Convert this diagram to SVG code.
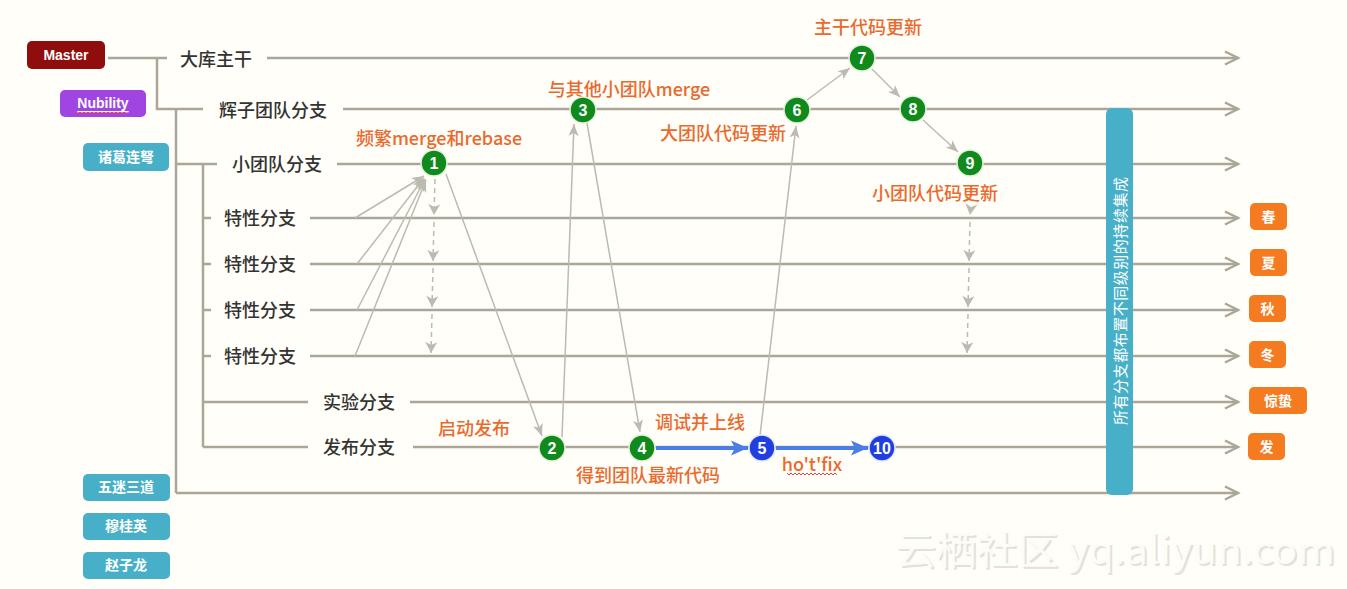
<svg xmlns="http://www.w3.org/2000/svg" width="1347" height="589" viewBox="0 0 1347 589">
<style>
.ln{stroke:#aca699;stroke-width:2.5;fill:none}
.main{marker-end:url(#chev)}
.ga{stroke:#bdbab2;stroke-width:1.5;fill:none;marker-end:url(#garr)}
.gd{stroke:#bdbab2;stroke-width:1.5;fill:none;stroke-dasharray:5 4;marker-end:url(#vch)}
.ba{stroke:#4a7ee6;stroke-width:4;fill:none;marker-end:url(#barr)}
.lbl{font-family:"Noto Sans CJK SC","Noto Sans",sans-serif;font-size:18px;fill:#333;font-weight:500;text-anchor:middle;dominant-baseline:central}
.or{font-family:"Noto Sans CJK SC","Noto Sans",sans-serif;font-size:18px;fill:#ea6a2e;font-weight:500;text-anchor:middle;dominant-baseline:central}
.btxt{font-family:"Liberation Sans","Noto Sans CJK SC",sans-serif;font-size:14px;fill:#fff;font-weight:bold;text-anchor:middle;dominant-baseline:central}
.num{font-family:"Liberation Sans",sans-serif;font-size:16px;fill:#fff;font-weight:bold;text-anchor:middle;dominant-baseline:central}
.gn{fill:#108a1c;stroke:#e3f1dc;stroke-width:1.5}
.bn{fill:#1f3fe0;stroke:#dfe6fa;stroke-width:1.5}
.teal{fill:#47b0c8}
.orb{fill:#f47b20}
.wavy{stroke:#e0403a;stroke-width:1;fill:none}
</style>
<defs>
<marker id="chev" markerUnits="userSpaceOnUse" markerWidth="16" markerHeight="16" refX="13" refY="7" orient="auto" overflow="visible">
<path d="M0,0.5 L13,7 L0,13.5" fill="none" stroke="#aca699" stroke-width="2.5"/>
</marker>
<marker id="garr" markerUnits="userSpaceOnUse" markerWidth="14" markerHeight="12" refX="12" refY="5" orient="auto" overflow="visible">
<path d="M0,0 L12,5 L0,10 L3,5 z" fill="#bdbab2"/>
</marker>
<marker id="vch" markerUnits="userSpaceOnUse" markerWidth="14" markerHeight="14" refX="11" refY="6" orient="auto" overflow="visible">
<path d="M0,0 L11,6 L0,12 L3,6 z" fill="#bdbab2"/>
</marker>
<marker id="barr" markerUnits="userSpaceOnUse" markerWidth="18" markerHeight="16" refX="17" refY="7.5" orient="auto" overflow="visible">
<path d="M0,0 L17,7.5 L0,15 L4,7.5 z" fill="#4a7ee6"/>
</marker>
</defs>
<rect width="1347" height="589" fill="#fffef8"/>

<!-- watermark -->
<g id="watermark" font-family="Noto Sans CJK SC, sans-serif" font-size="39">
<text x="897" y="566" fill="#e4e1d8" textLength="440" lengthAdjust="spacingAndGlyphs">云栖社区 yq.aliyun.com</text>
<text x="895" y="564" fill="#fdfcf7" textLength="440" lengthAdjust="spacingAndGlyphs">云栖社区 yq.aliyun.com</text>
</g>

<g id="connectors">
<path class="ln" d="M108,58 H167"/>
<path class="ln main" d="M267,58 H1238"/>
<path class="ln" d="M157,58 V109 H203"/>
<path class="ln main" d="M343,109 H1238"/>
<path class="ln" d="M176,109 V493"/>
<path class="ln" d="M176,164 H217"/>
<path class="ln main" d="M337,164 H1238"/>
<path class="ln" d="M203,164 V447"/>
<path class="ln" d="M203,218 H211 M203,264 H211 M203,310 H211 M203,356 H211"/>
<path class="ln main" d="M310,218 H1238"/>
<path class="ln main" d="M310,264 H1238"/>
<path class="ln main" d="M310,310 H1238"/>
<path class="ln main" d="M310,356 H1238"/>
<path class="ln" d="M203,402 H308"/>
<path class="ln main" d="M410,402 H1238"/>
<path class="ln" d="M203,447 H308"/>
<path class="ln main" d="M413,447 H1238"/>
<path class="ln main" d="M176,493 H1238"/>

<line class="ga" x1="355" y1="218" x2="424" y2="176"/>
<line class="ga" x1="357" y1="264" x2="424" y2="178"/>
<line class="ga" x1="357" y1="310" x2="425" y2="179"/>
<line class="ga" x1="355" y1="356" x2="426" y2="180"/>
<line class="gd" x1="435" y1="179" x2="434" y2="215"/>
<line class="gd" x1="434" y1="222" x2="433" y2="261"/>
<line class="gd" x1="433" y1="268" x2="432" y2="307"/>
<line class="gd" x1="432" y1="314" x2="431" y2="353"/>
<line class="gd" x1="971" y1="207" x2="970" y2="215"/>
<line class="gd" x1="970" y1="222" x2="969" y2="261"/>
<line class="gd" x1="969" y1="268" x2="968" y2="307"/>
<line class="gd" x1="968" y1="314" x2="967" y2="353"/>

<line class="ga" x1="446" y1="174" x2="542" y2="436"/>
<line class="ga" x1="562" y1="437" x2="574" y2="124"/>
<line class="ga" x1="587" y1="123" x2="640" y2="432"/>
<line class="ga" x1="760" y1="436" x2="796" y2="126"/>
<line class="ga" x1="807" y1="100" x2="850" y2="68"/>
<line class="ga" x1="872" y1="69" x2="900" y2="97"/>
<line class="ga" x1="923" y1="120" x2="958" y2="152"/>

<line class="ba" x1="656" y1="448" x2="748" y2="448"/>
<line class="ba" x1="776" y1="448" x2="868" y2="448"/>
</g>

<g id="master"><rect x="27" y="41" width="78" height="28" rx="5" fill="#8f0d0d"/><text class="btxt" x="66" y="55" font-size="15">Master</text></g>
<g id="nubility"><rect x="60" y="90" width="86" height="27" rx="5" fill="#a045e2"/><text class="btxt" x="103" y="103" text-decoration="underline">Nubility</text>
<path class="wavy" d="M76,112 l2,2 l2,-2 l2,2 l2,-2 l2,2 l2,-2 l2,2 l2,-2 l2,2 l2,-2 l2,2 l2,-2 l2,2 l2,-2 l2,2 l2,-2 l2,2 l2,-2 l2,2 l2,-2 l2,2 l2,-2 l2,2 l2,-2 l2,2"/></g>
<g id="zhuge"><rect class="teal" x="83" y="143" width="86" height="28" rx="5"/><text class="btxt" x="126" y="157">诸葛连弩</text></g>
<g id="wumi"><rect class="teal" x="83" y="474" width="87" height="27" rx="5"/><text class="btxt" x="126" y="487">五迷三道</text></g>
<g id="mugui"><rect class="teal" x="83" y="513" width="87" height="27" rx="5"/><text class="btxt" x="126" y="526">穆桂英</text></g>
<g id="zhaozi"><rect class="teal" x="83" y="552" width="87" height="27" rx="5"/><text class="btxt" x="126" y="565">赵子龙</text></g>

<g id="labels">
<text class="lbl" x="216" y="58">大库主干</text>
<text class="lbl" x="273" y="109">辉子团队分支</text>
<text class="lbl" x="277" y="163">小团队分支</text>
<text class="lbl" x="260" y="217">特性分支</text>
<text class="lbl" x="260" y="263">特性分支</text>
<text class="lbl" x="260" y="309">特性分支</text>
<text class="lbl" x="260" y="355">特性分支</text>
<text class="lbl" x="359" y="401">实验分支</text>
<text class="lbl" x="359" y="446">发布分支</text>
</g>

<g id="notes">
<text class="or" x="439" y="137">频繁merge和rebase</text>
<text class="or" x="629" y="88">与其他小团队merge</text>
<text class="or" x="723" y="132">大团队代码更新</text>
<text class="or" x="868" y="26">主干代码更新</text>
<text class="or" x="935" y="192">小团队代码更新</text>
<text class="or" x="474" y="427">启动发布</text>
<text class="or" x="700" y="421">调试并上线</text>
<text class="or" x="648" y="474">得到团队最新代码</text>
<text class="or" x="812" y="463">ho't'fix</text>
<path class="wavy" d="M787,473 l2,2 l2,-2 l2,2 l2,-2 l2,2 l2,-2 l2,2 l2,-2 l2,2 l2,-2 l2,2 l2,-2 l2,2 l2,-2 l2,2 l2,-2 l2,2 l2,-2 l2,2 l2,-2 l2,2 l2,-2 l2,2 l2,-2 l2,2"/>
</g>

<g id="n1"><circle class="gn" cx="434" cy="163" r="13"/><text class="num" x="434" y="163">1</text></g>
<g id="n2"><circle class="gn" cx="552" cy="448" r="13"/><text class="num" x="552" y="448">2</text></g>
<g id="n3"><circle class="gn" cx="583" cy="110" r="13"/><text class="num" x="583" y="110">3</text></g>
<g id="n4"><circle class="gn" cx="642" cy="448" r="13"/><text class="num" x="642" y="448">4</text></g>
<g id="n5"><circle class="bn" cx="762" cy="448" r="13"/><text class="num" x="762" y="448">5</text></g>
<g id="n6"><circle class="gn" cx="797" cy="110" r="13"/><text class="num" x="797" y="110">6</text></g>
<g id="n7"><circle class="gn" cx="862" cy="58" r="13"/><text class="num" x="862" y="58">7</text></g>
<g id="n8"><circle class="gn" cx="913" cy="109" r="13"/><text class="num" x="913" y="109">8</text></g>
<g id="n9"><circle class="gn" cx="970" cy="163" r="13"/><text class="num" x="970" y="163">9</text></g>
<g id="n10"><circle class="bn" cx="882" cy="448" r="13"/><text class="num" x="882" y="448">10</text></g>

<g id="ci"><rect class="teal" x="1106" y="108" width="27" height="387" rx="6"/>
<text font-family="Noto Sans CJK SC, sans-serif" font-size="15" fill="#fff" text-anchor="middle" dominant-baseline="central" textLength="248" lengthAdjust="spacing" transform="translate(1119.5,301) rotate(-90)">所有分支都布置不同级别的持续集成</text></g>

<g id="chun"><rect class="orb" x="1250" y="203" width="37" height="27" rx="5"/><text class="btxt" x="1268.5" y="216.5">春</text></g>
<g id="xia"><rect class="orb" x="1250" y="249" width="37" height="27" rx="5"/><text class="btxt" x="1268.5" y="262.5">夏</text></g>
<g id="qiu"><rect class="orb" x="1249" y="295" width="37" height="27" rx="5"/><text class="btxt" x="1267.5" y="308.5">秋</text></g>
<g id="dong"><rect class="orb" x="1249" y="341" width="37" height="27" rx="5"/><text class="btxt" x="1267.5" y="354.5">冬</text></g>
<g id="jingzhe"><rect class="orb" x="1249" y="387" width="58" height="27" rx="5"/><text class="btxt" x="1278" y="400.5">惊蛰</text></g>
<g id="fa"><rect class="orb" x="1248" y="433" width="37" height="27" rx="5"/><text class="btxt" x="1266.5" y="446.5">发</text></g>
</svg>
